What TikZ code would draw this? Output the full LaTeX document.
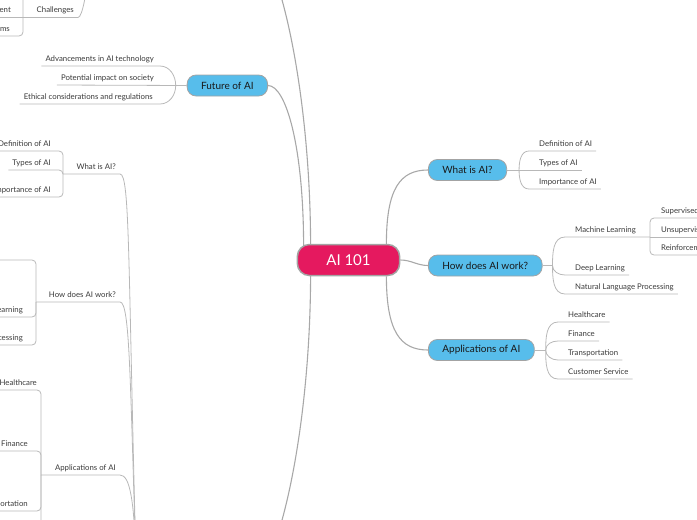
\documentclass[tikz,border=0pt]{standalone}
\usepackage{fontspec}
\setmainfont{Lato}
\usetikzlibrary{positioning, calc, backgrounds}
\definecolor{rootPink}{HTML}{E5195F}
\definecolor{topicBlue}{HTML}{57BDEB}
\definecolor{frameGray}{HTML}{A3A3A3}
\definecolor{spokeGray}{HTML}{A8A8A8}
\definecolor{twigGray}{HTML}{B8B8B8}
\definecolor{leafText}{HTML}{3A3A3A}
\tikzset{
  rootBox/.style={rectangle, rounded corners=12pt, draw=frameGray, line width=1.5pt,
                  fill=rootPink, text=white, font=\fontsize{15}{18}\selectfont,
                  inner xsep=29pt, minimum height=31pt},
  topicBox/.style={rectangle, rounded corners=9pt, draw=frameGray, line width=0.8pt,
                   fill=topicBlue, text=black!90, font=\fontsize{10}{12}\selectfont,
                   inner xsep=14pt, minimum height=21pt},
  leaf/.style={anchor=south west, font=\fontsize{7.8}{9}\selectfont, text=leafText,
               inner xsep=4pt, inner ysep=3pt, text height=5.6pt, text depth=1.6pt},
  leafL/.style={leaf, anchor=south east},
  spoke/.style={draw=spokeGray, line width=1.1pt},
  twig/.style={draw=twigGray, line width=0.8pt},
  bracket/.style={twig, rounded corners=4pt},
}

\begin{document}
\begin{tikzpicture}[x=1pt, y=-1pt]
  \useasboundingbox (0,0) rectangle (697,520);
  \clip (0,0) rectangle (697,520);
  % main topics
  \node[rootBox] (root) at (348.5,260) {AI 101};
  \node[topicBox, anchor=west] (whatR) at (428,170) {What is AI?};
  \node[topicBox, anchor=west] (howR) at (428,265.5) {How does AI work?};
  \node[topicBox, anchor=west] (appR) at (428,350) {Applications of AI};
  \node[topicBox, anchor=east] (future) at (268,85.5) {Future of AI};
  % right leaves
  \node[leaf] (defR) at (535,151) {Definition of AI};
  \node[leaf] (typR) at (535,170) {Types of AI};
  \node[leaf] (impR) at (535,189) {Importance of AI};
  \node[leaf] (mlR) at (571,237) {Machine Learning};
  \node[leaf] (dlR) at (571,275) {Deep Learning};
  \node[leaf] (nlpR) at (571,294) {Natural Language Processing};
  \node[leaf] (supR) at (657,218) {Supervised Learning};
  \node[leaf] (unsR) at (657,237) {Unsupervised Learning};
  \node[leaf] (reiR) at (657,255) {Reinforcement Learning};
  \node[leaf] (hcR) at (564,322) {Healthcare};
  \node[leaf] (finR) at (564,341) {Finance};
  \node[leaf] (trR) at (564,360) {Transportation};
  \node[leaf] (csR) at (564,379) {Customer Service};
  % left leaves
  \node[leafL] (advF) at (158,66) {Advancements in AI technology};
  \node[leafL] (potF) at (158,85) {Potential impact on society};
  \node[leafL] (ethF) at (157,104) {Ethical considerations and regulations};
  \node[leafL] (chal) at (78,17.5) {Challenges};
  \node[leafL] (entL) at (15,17.5) {ent};
  \node[leafL] (rmsL) at (14,36) {rms};
  \node[leafL] (whatL) at (120,174) {What is AI?};
  \node[leafL] (defL) at (55,151) {Definition of AI};
  \node[leafL] (typL) at (55,170) {Types of AI};
  \node[leafL] (impL) at (55,197) {Importance of AI};
  \node[leafL] (howL) at (120,302) {How does AI work?};
  \node[leafL] (dlL) at (27,317) {Deep Learning};
  \node[leafL] (nlpL) at (27,345) {Natural Language Processing};
  \node[leafL] (appL) at (120,475) {Applications of AI};
  \node[leafL] (hcL) at (41,390) {Healthcare};
  \node[leafL] (finL) at (32,451) {Finance};
  \node[leafL] (trL) at (32,511) {Transportation};
  % off-canvas ends
  \coordinate (topHub) at (276,-20);
  \coordinate (botHub) at (276,540);
  \coordinate (leftHub) at (136,560);
  \coordinate (chalHub) at (100,-150);
  \coordinate (mlL) at (-10,260);
  \coordinate (csL) at (-10,570);
  \coordinate (topL) at (-10,-20);
  \coordinate (jW) at ($(whatR.east)+(12,0)$);
  \coordinate (jH) at ($(howR.east)+(10,0)$);
  \coordinate (jA) at ($(appR.east)+(11,0)$);
  \coordinate (jML) at (650,237);
  \coordinate (jF) at ($(future.west)+(-11,0)$);
  \coordinate (jLW) at (63,174);
  \coordinate (jLH) at (36,302);
  \coordinate (jLA) at (41,475);
  \coordinate (jC) at (23,17.5);

  \begin{scope}[on background layer]
    \clip (0,0) rectangle (697,520);
    % spokes from the root
    \draw[spoke] ([xshift=-14pt]root.north east) .. controls +(0,-55) and +(-28,0) .. (whatR.west);
    \draw[spoke] (root.east) to[out=0, in=180] (howR.west);
    \draw[spoke] ([xshift=-14pt]root.south east) .. controls +(0,55) and +(-28,0) .. (appR.west);
    \draw[spoke] (future.east) .. controls +(18,0) and +(0,-100) .. ([xshift=7pt,yshift=-3pt]root.north west);
    \draw[spoke] ([xshift=14pt,yshift=-3pt]root.north west) .. controls +(0,-105) and +(20,60) .. (topHub);
    \draw[spoke] ([xshift=14pt,yshift=3pt]root.south west) .. controls +(0,105) and +(20,-60) .. (botHub);
    % what is AI (right)
    \draw[twig] (whatR.east) -- (typR.south east);
    \draw[twig] (jW) to[out=90,in=180] ($(defR.south west)+(-6,0)$) -- (defR.south east);
    \draw[twig] (jW) to[out=-90,in=180] ($(impR.south west)+(-6,0)$) -- (impR.south east);
    % how does AI work (right)
    \draw[twig] (howR.east) -- (jH);
    \draw[twig] (jH) to[out=90,in=180] ($(mlR.south west)+(-6,0)$) -- (jML);
    \draw[twig] (jH) to[out=-90,in=180] ($(dlR.south west)+(-6,0)$) -- (dlR.south east);
    \draw[twig] (jH) to[out=-90,in=180] ($(nlpR.south west)+(-6,0)$) -- (nlpR.south east);
    \draw[twig] (jML) -- (unsR.south east);
    \draw[bracket] (jML) |- (supR.south east);
    \draw[bracket] (jML) |- (reiR.south east);
    % applications (right)
    \draw[twig] (appR.east) -- (jA);
    \draw[twig] (jA) to[out=90,in=180] ($(hcR.south west)+(-6,0)$) -- (hcR.south east);
    \draw[twig] (jA) to[out=90,in=180] ($(finR.south west)+(-6,0)$) -- (finR.south east);
    \draw[twig] (jA) to[out=-90,in=180] ($(trR.south west)+(-6,0)$) -- (trR.south east);
    \draw[twig] (jA) to[out=-90,in=180] ($(csR.south west)+(-6,0)$) -- (csR.south east);
    % future of AI
    \draw[twig] (future.west) -- (potF.south west);
    \draw[twig] (jF) to[out=90,in=0] ($(advF.south east)+(2,0)$) -- (advF.south west);
    \draw[twig] (jF) to[out=-90,in=0] ($(ethF.south east)+(3,0)$) -- (ethF.south west);
    % challenges
    \draw[twig] (entL.south west) -- (chal.south east) .. controls +(9,0) and +(-4,60) .. (chalHub);
    \draw[bracket] (jC) |- (rmsL.south west);
    \draw[bracket] (jC) |- (topL);
    % left branch
    \draw[twig] (jLW) -- (whatL.south east) .. controls +(10,0) and +(-8,-300) .. (leftHub);
    \draw[bracket] (jLW) |- (defL.south west);
    \draw[bracket] (jLW) |- (typL.south west);
    \draw[bracket] (jLW) |- (impL.south west);
    \draw[twig] (jLH) -- (howL.south east) .. controls +(10,0) and +(-6,-180) .. (leftHub);
    \draw[bracket] (jLH) |- (mlL);
    \draw[bracket] (jLH) |- (dlL.south west);
    \draw[bracket] (jLH) |- (nlpL.south west);
    \draw[twig] (jLA) -- (appL.south east) .. controls +(10,0) and +(-2,-60) .. (leftHub);
    \draw[bracket] (jLA) |- (hcL.south west);
    \draw[bracket] (jLA) |- (finL.south west);
    \draw[bracket] (jLA) |- (trL.south west);
    \draw[bracket] (jLA) |- (csL);
  \end{scope}
\end{tikzpicture}
\end{document}
